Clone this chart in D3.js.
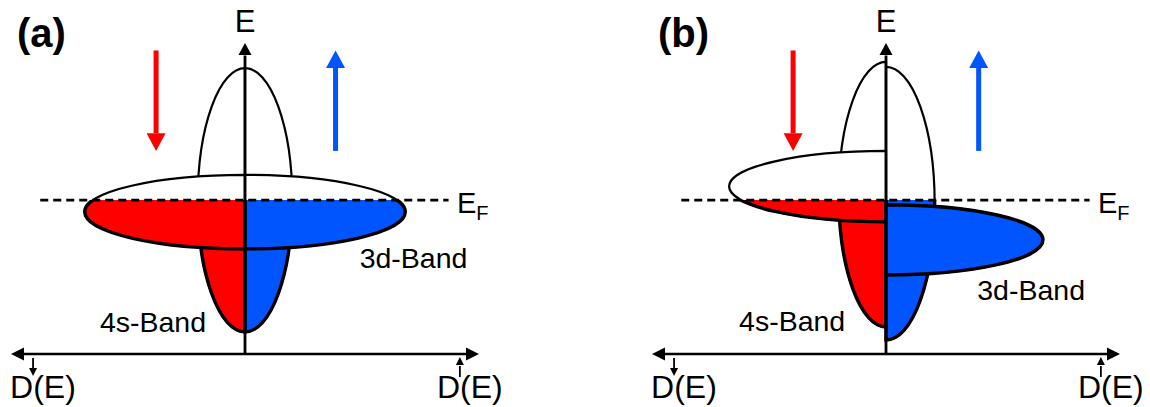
<!DOCTYPE html>
<html><head><meta charset="utf-8">
<script src="https://cdn.jsdelivr.net/npm/d3@7"></script>
<style>html,body{margin:0;padding:0;background:#fff;}svg{display:block;}</style>
</head><body>
<svg id="chart" width="1150" height="407"></svg>
<script>
// ---------- data ----------
const panelLabels = ["(a)", "(b)"];
const spinNames = ["down", "up"];          // index 0 = spin down (left), 1 = spin up (right)
const bandNames = ["4s-Band", "3d-Band"];
const fermiLevel = 4.95;                   // energy units
// 4s band per panel, per spin: centre energy, half bandwidth, peak DOS
const s4Center    = [[4.95, 4.95], [5.13, 4.84]];
const s4HalfWidth = [[4.24, 4.24], [4.26, 4.39]];
const s4Peak      = [[2.02, 2.02], [2.02, 2.08]];
// 3d band per panel, per spin
const d3Center    = [[4.57, 4.57], [5.39, 3.67]];
const d3HalfWidth = [[1.19, 1.19], [1.14, 1.13]];
const d3Peak      = [[6.85, 6.85], [6.71, 6.71]];
// label anchor positions in (DOS, E) units
const s4LabelPos = [[-6.2, 0.7], [-6.28, 0.74]];
const d3LabelPos = [[4.9, 2.77], [3.9, 1.74]];

// ---------- style ----------
const spinColor = ["#ff0000", "#0055ff"];
const panelCenters = [245, 886];
const svg = d3.select("#chart");
const font = "'Liberation Sans', Arial, sans-serif";

panelLabels.forEach((lab, p) => {
  const cx = panelCenters[p];
  const x = d3.scaleLinear().domain([-10, 10]).range([cx - 234, cx + 234]);
  const y = d3.scaleLinear().domain([0, 10]).range([354, 43]);
  const g = svg.append("g");

  const clipId = "below" + p;
  g.append("clipPath").attr("id", clipId).append("rect")
    .attr("x", x(-10)).attr("y", y(fermiLevel)).attr("width", x(10) - x(-10)).attr("height", y(0) - y(fermiLevel));

  function half(side, c, h, peak) {
    const x0 = x(0), cy = y(c);
    const rx = Math.abs(x(peak) - x(0));
    const ry = y(c - h) - y(c);
    const sweep = side === 0 ? 0 : 1;
    return `M${x0},${cy - ry} A${rx},${ry} 0 0 ${sweep} ${x0},${cy + ry} Z`;
  }

  function drawBand(centers, halves, peaks) {
    spinNames.forEach((s, i) => {
      const d = half(i, centers[p][i], halves[p][i], peaks[p][i]);
      g.append("path").attr("d", d).attr("fill", "#fff").attr("stroke", "#000").attr("stroke-width", 2.2);
      g.append("path").attr("d", d).attr("clip-path", `url(#${clipId})`)
        .attr("fill", spinColor[i]).attr("stroke", "#000").attr("stroke-width", 3.4);
    });
  }
  drawBand(s4Center, s4HalfWidth, s4Peak);
  drawBand(d3Center, d3HalfWidth, d3Peak);

  // Fermi level
  g.append("line").attr("x1", x(-8.75)).attr("x2", x(8.7)).attr("y1", y(fermiLevel)).attr("y2", y(fermiLevel))
    .attr("stroke", "#000").attr("stroke-width", 2.8).attr("stroke-dasharray", "8,5");
  const ef = g.append("text").attr("x", x(9.06)).attr("y", y(fermiLevel) + 13)
    .attr("font-family", font).attr("font-size", 29).attr("fill", "#000");
  ef.append("tspan").text("E");
  ef.append("tspan").attr("font-size", 20).attr("dy", 7).text("F");

  // axes
  g.append("line").attr("x1", x(-9.6)).attr("x2", x(9.6)).attr("y1", y(0)).attr("y2", y(0))
    .attr("stroke", "#000").attr("stroke-width", 2.6);
  g.append("line").attr("x1", x(0)).attr("x2", x(0)).attr("y1", y(0)).attr("y2", y(9.6))
    .attr("stroke", "#000").attr("stroke-width", 2.8);
  const tri = (pts) => g.append("polygon").attr("points", pts.map(q => q.join(",")).join(" ")).attr("fill", "#000");
  tri([[x(-10), y(0)], [x(-10) + 13, y(0) - 6.5], [x(-10) + 13, y(0) + 6.5]]);
  tri([[x(10), y(0)], [x(10) - 13, y(0) - 6.5], [x(10) - 13, y(0) + 6.5]]);
  tri([[x(0), y(10)], [x(0) - 6.5, y(10) + 12], [x(0) + 6.5, y(10) + 12]]);

  g.append("text").attr("x", x(0)).attr("y", 32).attr("text-anchor", "middle")
    .attr("font-family", font).attr("font-size", 31).text("E");

  // D(E) labels with spin arrows
  [[-10.04, 0], [8.2, 1]].forEach(([dx, s]) => {
    g.append("text").attr("x", x(dx)).attr("y", 398)
      .attr("font-family", font).attr("font-size", 32).text("D(E)");
    const ax = x(dx) + 23;
    g.append("line").attr("x1", ax).attr("x2", ax)
      .attr("y1", s === 0 ? 358 : 366).attr("y2", s === 0 ? 369 : 377)
      .attr("stroke", "#000").attr("stroke-width", 1.8);
    if (s === 0) tri([[ax, 376], [ax - 4, 368], [ax + 4, 368]]);
    else tri([[ax, 357], [ax - 4, 365], [ax + 4, 365]]);
  });

  // spin arrows
  const arrowX = [p === 0 ? -3.8 : -3.97, p === 0 ? 3.87 : 3.96];
  g.append("rect").attr("x", x(arrowX[0]) - 2.5).attr("y", y(9.76)).attr("width", 5).attr("height", y(7.1) - y(9.76)).attr("fill", spinColor[0]);
  g.append("polygon").attr("points", [[x(arrowX[0]), y(6.53)], [x(arrowX[0]) - 9.5, y(7.1)], [x(arrowX[0]) + 9.5, y(7.1)]].map(q => q.join(",")).join(" ")).attr("fill", spinColor[0]);
  g.append("rect").attr("x", x(arrowX[1]) - 2.5).attr("y", y(9.2)).attr("width", 5).attr("height", y(6.53) - y(9.2)).attr("fill", spinColor[1]);
  g.append("polygon").attr("points", [[x(arrowX[1]), y(9.76)], [x(arrowX[1]) - 9.5, y(9.2)], [x(arrowX[1]) + 9.5, y(9.2)]].map(q => q.join(",")).join(" ")).attr("fill", spinColor[1]);

  // band labels
  g.append("text").attr("x", x(s4LabelPos[p][0])).attr("y", y(s4LabelPos[p][1]))
    .attr("font-family", font).attr("font-size", 28.5).text(bandNames[0]);
  g.append("text").attr("x", x(d3LabelPos[p][0])).attr("y", y(d3LabelPos[p][1]))
    .attr("font-family", font).attr("font-size", 28.5).text(bandNames[1]);

  // panel label
  svg.append("text").attr("x", cx - 228).attr("y", 47)
    .attr("font-family", font).attr("font-size", 40).attr("font-weight", "bold").text(lab);
});
</script>
</body></html>
